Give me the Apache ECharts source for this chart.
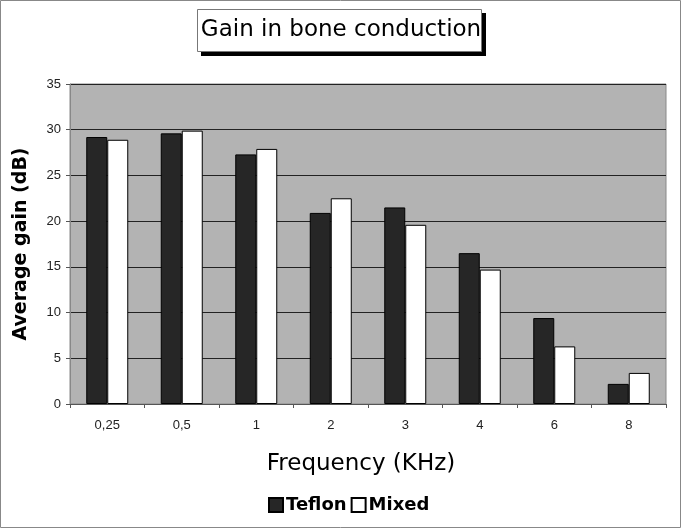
<!DOCTYPE html>
<html>
<head>
<meta charset="utf-8">
<script src="https://cdn.jsdelivr.net/npm/echarts@6/dist/echarts.min.js"></script>
<style>html,body{margin:0;padding:0;background:#fff}#c{width:682px;height:529px}</style>
</head>
<body>
<div id="c"></div>
<script>
const categories = ['0,25', '0,5', '1', '2', '3', '4', '6', '8'];
const teflon = [29.2, 29.6, 27.3, 20.9, 21.5, 16.5, 9.4, 2.2];
const mixed = [28.9, 29.9, 27.9, 22.5, 19.6, 14.7, 6.3, 3.4];
const yTicks = { min: 0, max: 35, interval: 5 };

const chart = echarts.init(document.getElementById('c'), null, { renderer: 'canvas' });
chart.setOption({
  animation: false,
  backgroundColor: '#ffffff',
  title: {
    text: 'Gain in bone conduction',
    left: 'center',
    top: 19,
    padding: 0,
    z: 10,
    textStyle: { fontFamily: 'DejaVu Sans', fontSize: 23, fontWeight: 'normal', color: '#000' }
  },
  legend: {
    bottom: 10,
    left: 263,
    itemGap: 4,
    itemWidth: 14,
    itemHeight: 14,
    icon: 'rect',
    textStyle: { fontFamily: 'DejaVu Sans', fontSize: 18, fontWeight: 'bold', color: '#000', padding: [0, 0, 0, -2] },
    data: ['Teflon', 'Mixed']
  },
  grid: { left: 70, right: 16, top: 84, bottom: 125, show: true, backgroundColor: '#b3b3b3', borderColor: '#888', borderWidth: 1 },
  xAxis: {
    type: 'category',
    data: categories,
    name: 'Frequency (KHz)',
    nameLocation: 'middle',
    nameGap: 49,
    nameTextStyle: { fontFamily: 'DejaVu Sans', fontSize: 23, color: '#000', padding: [0, 14, 0, 0] },
    axisLine: { lineStyle: { color: '#555', width: 1 } },
    axisTick: { show: true, length: 4, lineStyle: { color: '#555' } },
    axisLabel: { fontFamily: 'Liberation Sans Narrow, Liberation Sans', fontSize: 13, color: '#222', margin: 15 },
    splitLine: { show: false }
  },
  yAxis: {
    type: 'value',
    min: yTicks.min,
    max: yTicks.max,
    interval: yTicks.interval,
    name: 'Average gain (dB)',
    nameLocation: 'middle',
    nameGap: 39,
    nameTextStyle: { fontFamily: 'DejaVu Sans', fontSize: 19, fontWeight: 'bold', color: '#000' },
    axisLine: { show: true, lineStyle: { color: '#888', width: 1 } },
    axisTick: { show: true, length: 4, lineStyle: { color: '#555' } },
    axisLabel: { fontFamily: 'Liberation Sans Narrow, Liberation Sans', fontSize: 13, color: '#222', margin: 9 },
    splitLine: { show: true, lineStyle: { color: '#222', width: 1 } }
  },
  series: [
    {
      name: 'Teflon', type: 'bar', data: teflon,
      barWidth: 21, barGap: '0%',
      itemStyle: { color: '#262626', borderColor: '#000', borderWidth: 1 }
    },
    {
      name: 'Mixed', type: 'bar', data: mixed,
      barWidth: 21, barGap: '0%',
      itemStyle: { color: '#ffffff', borderColor: '#000', borderWidth: 1 }
    }
  ],
  graphic: [
    { type: 'rect', z: 1, silent: true, shape: { x: 201, y: 13, width: 285, height: 43 }, style: { fill: '#000' } },
    { type: 'rect', z: 2, silent: true, shape: { x: 197.5, y: 9.5, width: 284, height: 42 }, style: { fill: '#fff', stroke: '#777', lineWidth: 1 } },
    { type: 'rect', z: 100, silent: true, shape: { x: 0.5, y: 0.5, width: 680, height: 527 }, style: { fill: 'none', stroke: '#888', lineWidth: 1 } }
  ]
});
</script>
</body>
</html>
